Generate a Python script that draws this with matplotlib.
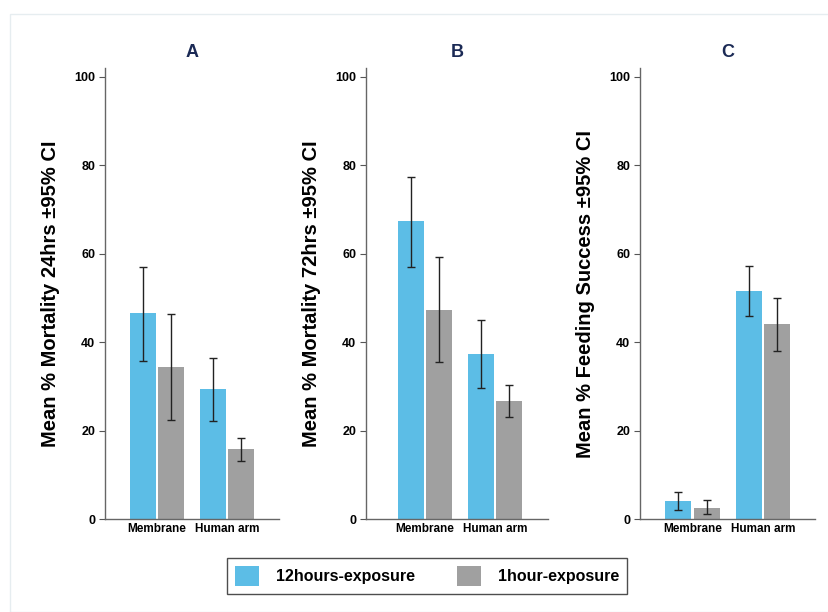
import matplotlib.pyplot as plt
from matplotlib.patches import Patch, Rectangle

plt.rcParams['font.family'] = ['Liberation Sans', 'DejaVu Sans']

categories = ["Membrane", "Human arm"]
series = ["12hours-exposure", "1hour-exposure"]
colors = ["#5cbde6", "#a0a0a0"]

panels = ["A", "B", "C"]
ylabels = ["Mean % Mortality 24hrs \u00b195% CI",
           "Mean % Mortality 72hrs \u00b195% CI",
           "Mean % Feeding Success \u00b195% CI"]

# mean, lower CI, upper CI per panel: [12h, 1h] x [Membrane, Human arm]
means_A = [[46.5, 29.3], [34.4, 15.8]]
low_A = [[35.7, 22.2], [22.4, 13.2]]
high_A = [[57.1, 36.5], [46.4, 18.4]]

means_B = [[67.3, 37.3], [47.3, 26.7]]
low_B = [[57.0, 29.7], [35.4, 23.1]]
high_B = [[77.3, 45.0], [59.3, 30.3]]

means_C = [[4.0, 51.5], [2.6, 44.0]]
low_C = [[2.1, 45.9], [1.1, 38.0]]
high_C = [[6.1, 57.2], [4.2, 50.0]]

means = [means_A, means_B, means_C]
lows = [low_A, low_B, low_C]
highs = [high_A, high_B, high_C]

fig = plt.figure(figsize=(8.29, 6.12), dpi=100)
fig.patches.append(Rectangle((10 / 829, 0), 1, 1 - 14 / 612, transform=fig.transFigure,
                             fill=False, edgecolor="#e6edf0", linewidth=1))

lefts = [105, 366, 640]
rights = [279, 548, 815]
xlims = [(-0.743, 1.74), (-0.843, 1.757), (-0.745, 1.738)]
bottom = 1 - 519 / 612
top = 1 - 68 / 612

w = 0.37
off = 0.2
for i in range(3):
    l = lefts[i] / 829
    ax = fig.add_axes([l, bottom, rights[i] / 829 - l, top - bottom])
    for s in range(2):
        xs = [c - off if s == 0 else c + off for c in range(len(categories))]
        m = means[i][s]
        err = [[m[k] - lows[i][s][k] for k in range(2)],
               [highs[i][s][k] - m[k] for k in range(2)]]
        ax.bar(xs, m, width=w, color=colors[s], zorder=2)
        ax.errorbar(xs, m, yerr=err, fmt='none', ecolor='#222222',
                    elinewidth=1, capsize=3, capthick=1, zorder=3)
    ax.set_xlim(*xlims[i])
    ax.set_ylim(0, 102)
    ax.set_yticks([0, 20, 40, 60, 80, 100])
    ax.set_xticks(range(len(categories)))
    ax.set_xticklabels(categories, fontsize=8.5, fontweight='bold')
    ax.tick_params(axis='x', length=0, pad=3)
    ax.tick_params(axis='y', length=4, width=0.8, color='#555555', labelsize=9, pad=3)
    for t in ax.get_yticklabels():
        t.set_fontweight('bold')
    for sp in ['top', 'right']:
        ax.spines[sp].set_visible(False)
    for sp in ['left', 'bottom']:
        ax.spines[sp].set_color('#666666')
        ax.spines[sp].set_linewidth(1)
    ax.set_ylabel(ylabels[i], fontsize=14.5, fontweight='bold', labelpad=10)
    ax.set_title(panels[i], fontsize=13, fontweight='bold', color='#1b2a55', pad=8)

handles = [Patch(facecolor=colors[s], label=series[s]) for s in range(2)]
leg = fig.legend(handles=handles, loc='center', bbox_to_anchor=(427 / 829, 1 - 576 / 612),
                 ncol=2, frameon=True, fancybox=False, edgecolor='#222222',
                 prop={'weight': 'bold', 'size': 11.5}, handlelength=1.5, handleheight=1.5,
                 columnspacing=2.6, handletextpad=1.1, borderpad=0.5)
leg.get_frame().set_linewidth(1)

fig.savefig("out.png", dpi=100)
